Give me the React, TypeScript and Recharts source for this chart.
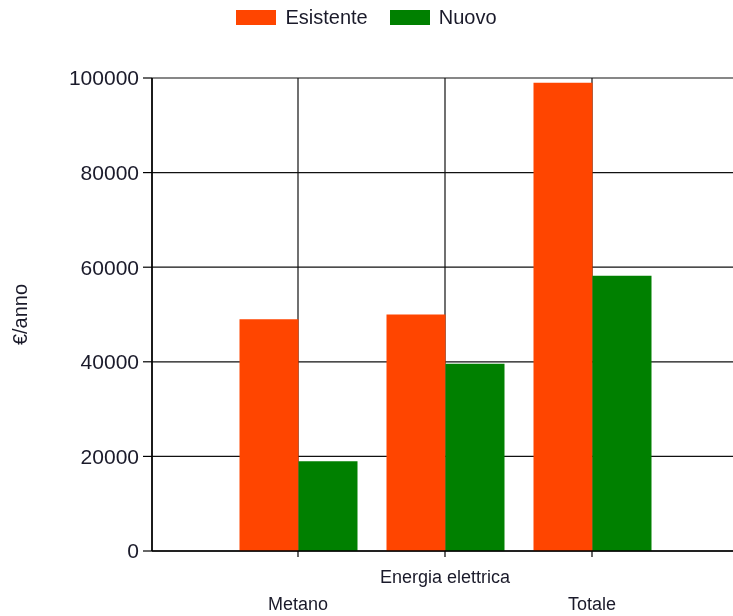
import { BarChart, Bar, XAxis, YAxis, CartesianGrid, Legend, Label } from "recharts";

const categories = ["Metano", "Energia elettrica", "Totale"];
const esistente = [49000, 50000, 99000];
const nuovo = [19000, 39600, 58200];
const yTicks = [0, 20000, 40000, 60000, 80000, 100000];

const ORANGE = "#ff4500";
const GREEN = "#008000";
const FONT = "'Liberation Sans', Arial, sans-serif";

const data = categories.map((name, i) => ({
  name,
  esistente: esistente[i],
  nuovo: nuovo[i],
}));

function LegendBox() {
  const items = [
    { label: "Esistente", color: ORANGE },
    { label: "Nuovo", color: GREEN },
  ];
  return (
    <div style={{
      height: 34, display: "flex", justifyContent: "center", alignItems: "center",
      gap: 22, fontFamily: FONT, fontSize: 20, color: "#1a1a2a",
    }}>
      {items.map(it => (
        <div key={it.label} style={{ display: "flex", alignItems: "center", gap: 9 }}>
          <span style={{ width: 40, height: 15, background: it.color, display: "inline-block" }} />
          <span>{it.label}</span>
        </div>
      ))}
    </div>
  );
}

// labels alternate between two rows so the long one doesn't collide
function StaggeredTick({ x, y, payload, index }: any) {
  const dy = index % 2 === 1 ? 18 : 45;
  return (
    <text x={x} y={y + dy} textAnchor="middle" dominantBaseline="central"
      fontFamily={FONT} fontSize={18} fill="#1a1a2a">
      {payload.value}
    </text>
  );
}

// the plot runs past the right edge of the frame, so the frame clips it
export default function App() {
  return (
    <div style={{ position: "fixed", left: 0, top: 0, width: 733, height: 616, overflow: "hidden" }}>
      <BarChart width={750} height={616} data={data}
        margin={{ top: 44, right: 0, bottom: 5, left: 0 }}
        barGap={0} barSize={59}>
        <CartesianGrid stroke="#111" strokeWidth={1.2} />
        <XAxis dataKey="name" height={60} padding={{ left: 72.5, right: 84.5 }}
          axisLine={{ stroke: "#000", strokeWidth: 1.5 }} tickLine={{ stroke: "#000", strokeWidth: 1.2 }}
          tickSize={6} interval={0} tick={<StaggeredTick />} />
        <YAxis width={152} domain={[0, 100000]} ticks={yTicks} interval={0}
          axisLine={{ stroke: "#000", strokeWidth: 1.5 }} tickLine={{ stroke: "#000", strokeWidth: 1.2 }}
          tickSize={9} tickMargin={4}
          tick={{ fontFamily: FONT, fontSize: 21, fill: "#1a1a2a" }}>
          <Label content={({ viewBox }: any) => {
            const cy = viewBox.y + viewBox.height / 2;
            return (
              <text x={20} y={cy} transform={`rotate(-90, 20, ${cy})`} textAnchor="middle"
                dominantBaseline="central" fontFamily={FONT} fontSize={20} fill="#1a1a2a">
                €/anno
              </text>
            );
          }} />
        </YAxis>
        <Legend verticalAlign="top" wrapperStyle={{ top: 0, left: 0, width: 733 }} content={<LegendBox />} />
        <Bar dataKey="esistente" name="Esistente" fill={ORANGE} isAnimationActive={false} />
        <Bar dataKey="nuovo" name="Nuovo" fill={GREEN} isAnimationActive={false} />
      </BarChart>
    </div>
  );
}
